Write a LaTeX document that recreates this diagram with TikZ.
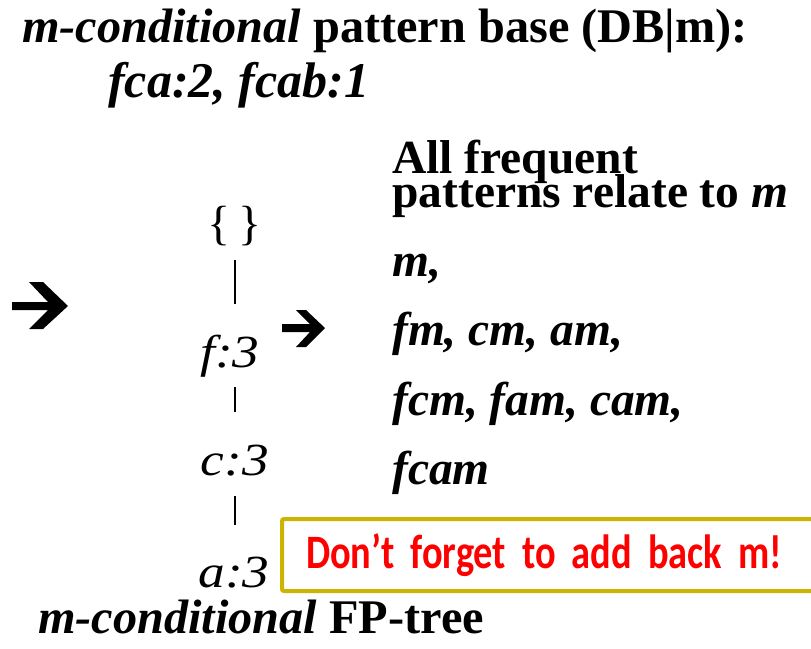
\documentclass[tikz,border=0pt]{standalone}
\usepackage{fontspec}
\setmainfont{Liberation Serif}
\newfontfamily\notefont[FakeStretch=0.80]{Carlito}
\newfontfamily\treefont[FakeStretch=1.16]{Liberation Serif}
\definecolor{boxyellow}{RGB}{205,180,0}
\definecolor{notered}{RGB}{255,0,0}
\tikzset{
  txt/.style={anchor=base west, inner sep=0pt},
  big/.style={font=\fontsize{48.3}{54}\selectfont\bfseries},
  sub/.style={font=\fontsize{50}{56}\selectfont\bfseries},
  mid/.style={font=\fontsize{47.5}{52}\selectfont\bfseries},
  pat/.style={font=\fontsize{47.5}{52}\selectfont\bfseries\itshape},
  treenode/.style={inner sep=0pt, font=\fontsize{46}{52}\selectfont\treefont\itshape},
  treeline/.style={line width=1.8pt, black},
  bigarrow/.style={fill=black, draw=none},
  notebox/.style={draw=boxyellow, line width=4pt, rounded corners=2pt, anchor=north west,
    minimum height=72pt, text width=500pt, inner xsep=24pt, inner ysep=0pt, align=left,
    text=notered, font=\fontsize{48}{54}\selectfont\notefont\bfseries}
}
\begin{document}
\begin{tikzpicture}[x=1pt,y=-1pt]
\clip (0,0) rectangle (811,648);
\fill[white] (0,0) rectangle (811,648);
% title
\node[txt,big] (title) at (22,42) {\textit{m-conditional} pattern base (DB|m):};
\node[txt,sub] (base) at (108,97) {\textit{fca:2, fcab:1}};
% right heading
\node[txt,mid] (h1) at (392,173) {All frequent};
\node[txt,mid] (h2) at (392,207) {patterns relate to \textit{m}};
% patterns
\node[txt,pat] (p1) at (392,276) {m,};
\node[txt,pat] (p2) at (392,345) {fm, cm, am,};
\node[txt,pat] (p3) at (392,415) {fcm, fam, cam,};
\node[txt,pat] (p4) at (392,484) {fcam};
% tree
\node[treenode, font=\fontsize{48}{52}\selectfont] (root) at (235,226) {\{\,\}};
\node[treenode, anchor=base] (f) at (230,367) {f:3};
\node[treenode, anchor=base] (c) at (235,475) {c:3};
\node[treenode, anchor=base] (a) at (234,587) {a:3};
\draw[treeline] (root.south) ++(0,14) -- ++(0,44);
\draw[treeline] (root.south) ++(0,141) -- ++(0,25);
\draw[treeline] (root.south) ++(0,250) -- ++(0,29);
% bottom label
\node[txt,big] (bottom) at (38,633) {\textit{m-conditional} FP-tree};
% arrows
\fill[bigarrow] (12,302) -- (48,302) -- (29,282) -- (43,282) -- (68,306) -- (43,329) -- (29,329) -- (48,310) -- (12,310) -- cycle;
\fill[bigarrow] (282,324) -- (310,324) -- (296,310) -- (306,310) -- (325,328) -- (306,347) -- (296,347) -- (310,332) -- (282,332) -- cycle;
% note box
\node[notebox] (note) at (280,517) {Don’t forget to add back m!};
\end{tikzpicture}
\end{document}
